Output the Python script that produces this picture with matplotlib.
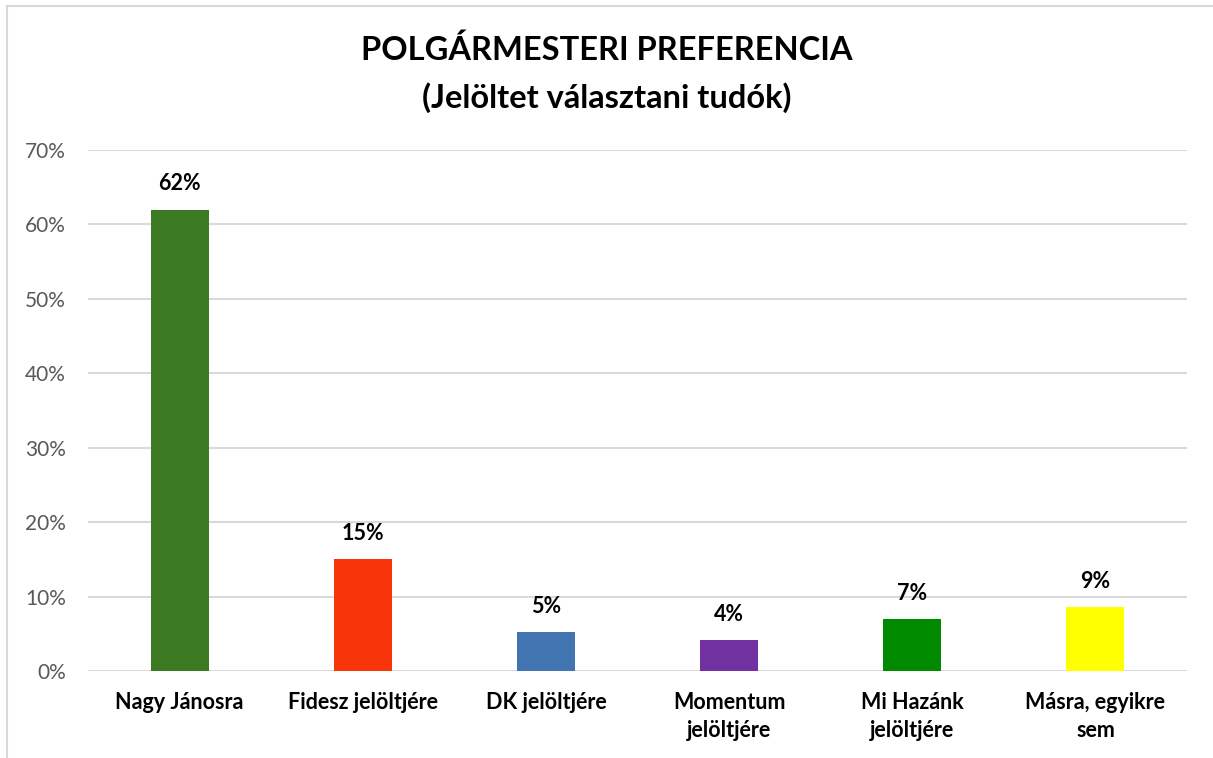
import matplotlib.pyplot as plt
import numpy as np

plt.rcParams['font.family'] = ['Lato', 'DejaVu Sans']

kategoriak = ['Nagy Jánosra', 'Fidesz jelöltjére', 'DK jelöltjére',
              'Momentum\njelöltjére', 'Mi Hazánk\njelöltjére', 'Másra, egyikre\nsem']
ertekek = [62, 15, 5.2, 4.1, 7, 8.6]
cimkek = ['62%', '15%', '5%', '4%', '7%', '9%']
szinek = ['#3b7a23', '#f8350a', '#4274b1', '#7231a0', '#008a00', '#ffff00']

fig = plt.figure(figsize=(12.13, 7.58), dpi=100)
ax = fig.add_axes([88/1213, 1-671/758, (1187-88)/1213, (671-150)/758])

x = np.arange(len(kategoriak))
rudak = ax.bar(x, ertekek, width=0.317, color=szinek, zorder=3)

for rud, c in zip(rudak, cimkek):
    ax.annotate(c, xy=(rud.get_x() + rud.get_width()/2, rud.get_height()),
                xytext=(0, 11), textcoords='offset points',
                ha='center', va='bottom', fontsize=15.5, fontweight='bold', color='black')

ax.set_xlim(-0.5, len(kategoriak) - 0.5)
ax.set_ylim(0, 70)
ax.set_yticks(np.arange(0, 71, 10))
ax.set_yticklabels([f'{v}%' for v in range(0, 71, 10)], fontsize=15, color='#595959')
ax.set_xticks(x)
ax.set_xticklabels(kategoriak, fontsize=15.5, fontweight='bold', color='black', linespacing=1.45)
ax.tick_params(axis='both', length=0)
ax.tick_params(axis='y', pad=16)
ax.tick_params(axis='x', pad=15)
ax.grid(axis='y', color='#d9d9d9', linewidth=1.5, zorder=0)
for s in ax.spines.values():
    s.set_visible(False)

fig.text(0.5, 1-50/758, 'POLGÁRMESTERI PREFERENCIA', ha='center', va='center',
         fontsize=23.5, fontweight='bold')
fig.text(0.5, 1-98/758, '(Jelöltet választani tudók)', ha='center', va='center',
         fontsize=23.5, fontweight='bold')

# keret
fig.add_artist(plt.Line2D([7/1213, 7/1213], [0, 1-6/758], color='#d9d9d9', linewidth=1.5))
fig.add_artist(plt.Line2D([7/1213, 1], [1-6/758, 1-6/758], color='#d9d9d9', linewidth=1.5))

plt.savefig('out.png', dpi=100)
